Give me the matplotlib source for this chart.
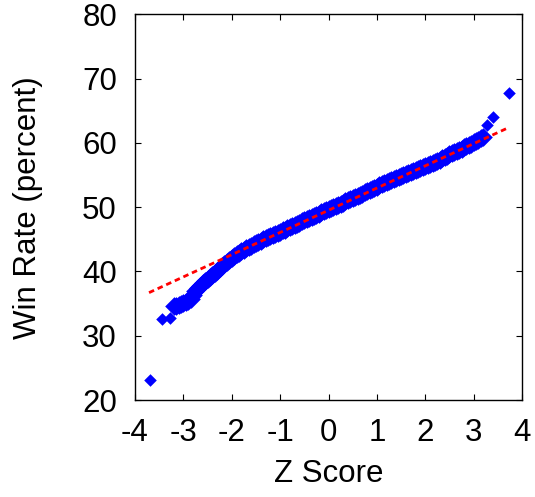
import matplotlib
matplotlib.use("Agg")
import matplotlib.pyplot as plt

# Q-Q plot data: normal quantile (Z score) vs observed win rate (percent)
z_band = [-3.20, -3.15, -3.10, -3.05, -3.00, -2.95, -2.90, -2.85, -2.80, -2.75,
          -2.70, -2.65, -2.60, -2.55, -2.50, -2.45, -2.40, -2.35, -2.30, -2.25,
          -2.20, -2.15, -2.10, -2.05, -2.00, -1.95, -1.90, -1.85, -1.80, -1.75,
          -1.70, -1.65, -1.60, -1.55, -1.50, -1.45, -1.40, -1.35, -1.30, -1.25,
          -1.20, -1.15, -1.10, -1.05, -1.00, -0.95, -0.90, -0.85, -0.80, -0.75,
          -0.70, -0.65, -0.60, -0.55, -0.50, -0.45, -0.40, -0.35, -0.30, -0.25,
          -0.20, -0.15, -0.10, -0.05, 0.00, 0.05, 0.10, 0.15, 0.20, 0.25,
          0.30, 0.35, 0.40, 0.45, 0.50, 0.55, 0.60, 0.65, 0.70, 0.75,
          0.80, 0.85, 0.90, 0.95, 1.00, 1.05, 1.10, 1.15, 1.20, 1.25,
          1.30, 1.35, 1.40, 1.45, 1.50, 1.55, 1.60, 1.65, 1.70, 1.75,
          1.80, 1.85, 1.90, 1.95, 2.00, 2.05, 2.10, 2.15, 2.20, 2.25,
          2.30, 2.35, 2.40, 2.45, 2.50, 2.55, 2.60, 2.65, 2.70, 2.75,
          2.80, 2.85, 2.90, 2.95, 3.00, 3.05, 3.10, 3.15, 3.20]
win_band = [34.6, 34.7, 34.8, 35.0, 35.1, 35.2, 35.4, 35.7, 36.4, 36.9,
            37.4, 37.8, 38.2, 38.5, 38.8, 39.2, 39.5, 39.8, 40.1, 40.5,
            40.9, 41.2, 41.5, 41.8, 42.1, 42.4, 42.7, 42.9, 43.2, 43.4,
            43.6, 43.8, 44.0, 44.2, 44.4, 44.6, 44.8, 45.0, 45.2, 45.3,
            45.5, 45.7, 45.9, 46.0, 46.2, 46.4, 46.5, 46.7, 46.9, 47.1,
            47.3, 47.4, 47.6, 47.8, 48.0, 48.1, 48.3, 48.5, 48.7, 48.8,
            49.0, 49.2, 49.4, 49.5, 49.7, 49.9, 50.0, 50.2, 50.4, 50.5,
            50.7, 50.9, 51.1, 51.2, 51.4, 51.6, 51.8, 51.9, 52.1, 52.3,
            52.5, 52.6, 52.8, 53.0, 53.2, 53.4, 53.6, 53.7, 53.9, 54.1,
            54.3, 54.4, 54.6, 54.7, 54.9, 55.0, 55.2, 55.3, 55.5, 55.6,
            55.8, 55.9, 56.1, 56.2, 56.4, 56.5, 56.7, 56.8, 57.0, 57.2,
            57.4, 57.6, 57.8, 58.0, 58.2, 58.4, 58.6, 58.7, 58.9, 59.1,
            59.3, 59.5, 59.7, 59.9, 60.1, 60.3, 60.5, 60.7, 60.9]
z_out = [-3.70, -3.44, -3.28, 3.27, 3.40, 3.73]
win_out = [23.1, 32.6, 32.7, 62.8, 64.1, 67.7]

# Reference (fit) line end points
fit_z = [-3.71, 3.73]
fit_win = [36.7, 62.4]

x_ticks = [-4, -3, -2, -1, 0, 1, 2, 3, 4]
y_ticks = [20, 30, 40, 50, 60, 70, 80]

plt.rcParams["font.family"] = ["Liberation Sans", "DejaVu Sans"]
FS = 22.5

fig = plt.figure(figsize=(5.35, 4.97), dpi=100)
ax = fig.add_axes([135 / 535, 1 - 400 / 497, (522 - 135) / 535, (400 - 14.3) / 497])

blue = "#0000ff"
ax.scatter(z_band, win_band, marker="D", s=(9.5) ** 2, color=blue, linewidths=0, zorder=2)
ax.scatter(z_out, win_out, marker="D", s=(6.4) ** 2, color=blue, linewidths=0, zorder=2)
ax.plot(fit_z, fit_win, color="#ff0000", linewidth=2.0, linestyle=(0, (2.0, 1.4)), zorder=3)

ax.set_xlim(-4, 4)
ax.set_ylim(20, 80)
ax.set_xticks(x_ticks)
ax.set_yticks(y_ticks)
ax.set_xticklabels([str(t) for t in x_ticks])
ax.set_yticklabels([str(t) for t in y_ticks])

ax.tick_params(direction="in", length=4.5, width=0.8, top=True, right=True,
               labelsize=FS)
ax.tick_params(axis="x", pad=13)
ax.tick_params(axis="y", pad=13)
for sp in ax.spines.values():
    sp.set_linewidth(1.0)

ax.set_xlabel("Z Score", fontsize=FS, labelpad=8)
ax.set_ylabel("Win Rate (percent)", fontsize=FS, labelpad=28)

fig.savefig("out.png", dpi=100)
